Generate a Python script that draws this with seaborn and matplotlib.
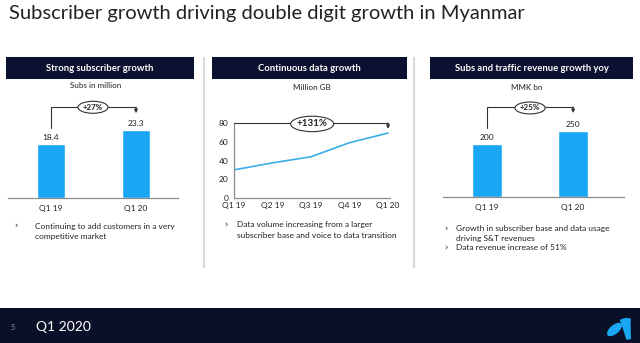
import matplotlib
matplotlib.use("Agg")
import matplotlib.pyplot as plt
from matplotlib.patches import Rectangle, Ellipse, Polygon
import seaborn as sns
import pandas as pd

# ---- data ----
subs_quarters = ["Q1 19", "Q1 20"]
subs_values = [18.4, 23.3]
subs_growth = "+27%"

data_quarters = ["Q1 19", "Q2 19", "Q3 19", "Q4 19", "Q1 20"]
data_values = [30.0, 37.5, 44.0, 59.0, 69.3]
data_growth = "+131%"
data_yticks = [0, 20, 40, 60, 80]

rev_quarters = ["Q1 19", "Q1 20"]
rev_values = [200, 250]
rev_growth = "+25%"

title = "Subscriber growth driving double digit growth in Myanmar"
headers = ["Strong subscriber growth", "Continuous data growth",
           "Subs and traffic revenue growth yoy"]
units = ["Subs in million", "Million GB", "MMK bn"]
bullets = [
    [["Continuing to add customers in a very", "competitive market"]],
    [["Data volume increasing from a larger",
      "subscriber base and voice to data transition"]],
    [["Growth in subscriber base and data usage", "driving S&T revenues"],
     ["Data revenue increase of 51%"]],
]
footer_page = "5"
footer_text = "Q1 2020"

# ---- style ----
NAVY = "#0c1131"
FOOT = "#0b1029"
BLUE = "#19a6f2"
LINE_BLUE = "#3aaee8"
GREY = "#8c8c8c"
TXT = "#222222"

sns.set_style("white")
plt.rcParams["font.family"] = ["Lato", "DejaVu Sans"]

W, H = 640, 343
fig = plt.figure(figsize=(W / 100, H / 100), dpi=100)


def rect(x0, y0, x1, y1):
    """pixel box (top-left origin) -> figure fraction rect"""
    return [x0 / W, 1 - y1 / H, (x1 - x0) / W, (y1 - y0) / H]


# background layer in pixel coordinates
bg = fig.add_axes([0, 0, 1, 1], zorder=0)
bg.set_xlim(0, W)
bg.set_ylim(H, 0)
bg.axis("off")

bg.text(9, 14, title, fontsize=14.5, color=TXT, va="center", ha="left")

header_boxes = [(6, 57, 194, 79), (212, 57, 407, 79), (430, 57, 633, 79)]
for (x0, y0, x1, y1), label in zip(header_boxes, headers):
    bg.add_patch(Rectangle((x0, y0), x1 - x0, y1 - y0, color=NAVY, lw=0))
    bg.text((x0 + x1) / 2, (y0 + y1) / 2 + 0.5, label, color="white",
            fontsize=6.8, fontweight="bold", ha="center", va="center")

for x in (204, 414):
    bg.plot([x, x], [57, 268], color="#d9d9d9", lw=1.5, solid_capstyle="butt")

for (cx, cy), label in zip([(96, 85), (312, 88), (527, 87)], units):
    bg.text(cx, cy, label, fontsize=5.8, color=TXT, ha="center", va="center")

# bullet x, text x, first-line y for every bullet item
bullet_layout = [
    [(16, 35, 226)],
    [(226, 237, 225)],
    [(446, 456, 229), (446, 456, 248)],
]
LINE_STEP = 10
for panel, items in zip(bullet_layout, bullets):
    for (bx, tx, ty), lines in zip(panel, items):
        bg.text(bx, ty, "›", fontsize=6, color=TXT, ha="center", va="center",
                family="DejaVu Sans")
        for k, line in enumerate(lines):
            bg.text(tx, ty + k * LINE_STEP, line, fontsize=6, color=TXT,
                    ha="left", va="center")

# footer band
bg.add_patch(Rectangle((0, 308), W, H - 308, color=FOOT, lw=0))
bg.text(13, 327, footer_page, fontsize=5, color="#9a9aa8", ha="center", va="center")
bg.text(36, 327, footer_text, fontsize=10, color="white", ha="left", va="center")
# logo mark
bg.add_patch(Ellipse((614.5, 329.5), 18, 9, angle=-40, color=BLUE, lw=0))
bg.add_patch(Polygon([(620, 319.5), (630.5, 318.5), (631, 339), (626.5, 340)],
                     closed=True, color=BLUE, lw=0))
bg.add_patch(Ellipse((625.5, 320.5), 11, 5, angle=-8, color=BLUE, lw=0))


def style_bar_axis(ax):
    ax.set_facecolor("none")
    for s in ("top", "right", "left"):
        ax.spines[s].set_visible(False)
    ax.spines["bottom"].set_color(GREY)
    ax.spines["bottom"].set_linewidth(0.9)
    ax.set_yticks([])
    ax.set_xlabel("")
    ax.set_ylabel("")
    ax.tick_params(axis="x", length=0, pad=5, labelsize=6, colors=TXT)


def bracket(ax, x0, x1, y_start, y_level, y_end, ex, ey, ew, eh, label):
    ax.plot([x0, x0, x1], [y_start, y_level, y_level], color="#333333",
            lw=0.8, clip_on=False, zorder=3)
    ax.annotate("", xy=(x1, y_end), xytext=(x1, y_level),
                arrowprops=dict(arrowstyle="-|>", color="#333333", lw=0.8,
                                mutation_scale=5, shrinkA=0, shrinkB=0),
                annotation_clip=False, zorder=3)
    ax.add_patch(Ellipse((ex, ey), ew, eh, facecolor="white",
                         edgecolor="#333333", lw=0.8, clip_on=False, zorder=4))
    ax.text(ex, ey, label, fontsize=5.8, fontweight="bold", ha="center",
            va="center", color=TXT, zorder=5, clip_on=False)


# ---- panel 1: subscribers ----
ax1 = fig.add_axes(rect(8, 95, 178, 198), zorder=1)
sns.barplot(x=subs_quarters, y=subs_values, ax=ax1, color=BLUE,
            saturation=1, width=0.33)
ax1.set_xlim(-0.506, 1.494)
ax1.set_ylim(0, 35.2)
style_bar_axis(ax1)
for i, v in enumerate(subs_values):
    ax1.text(i, v + 1.1, f"{v:.1f}", fontsize=6, ha="center", va="bottom", color=TXT)
bracket(ax1, 0, 1, subs_values[0] + 5.5, 31.0, subs_values[1] + 5.7,
        0.494, 31.0, 0.353, 4.1, subs_growth)

# ---- panel 2: data volume ----
ax2 = fig.add_axes(rect(234, 123, 390, 198), zorder=1)
ax2.set_facecolor("none")
df = pd.DataFrame({"pos": range(len(data_quarters)), "value": data_values})
sns.lineplot(data=df, x="pos", y="value", ax=ax2, color=LINE_BLUE, lw=1.2)
ax2.set_xlim(0, 4.05)
ax2.set_ylim(0, 80)
ax2.set_xticks(range(len(data_quarters)))
ax2.set_xticklabels(data_quarters)
ax2.set_yticks(data_yticks)
ax2.set_xlabel("")
ax2.set_ylabel("")
for s in ("top", "right"):
    ax2.spines[s].set_visible(False)
for s in ("left", "bottom"):
    ax2.spines[s].set_color(GREY)
    ax2.spines[s].set_linewidth(0.9)
ax2.tick_params(length=0, labelsize=6, colors=TXT)
ax2.tick_params(axis="y", pad=4)
ax2.tick_params(axis="x", pad=3)
ax2.plot([0, 4], [80, 80], color="#333333", lw=0.8, clip_on=False, zorder=3)
ax2.annotate("", xy=(4, data_values[-1] + 4.5), xytext=(4, 80),
             arrowprops=dict(arrowstyle="-|>", color="#333333", lw=0.8,
                             mutation_scale=5, shrinkA=0, shrinkB=0),
             annotation_clip=False, zorder=3)
ax2.add_patch(Ellipse((2.03, 79), 1.12, 16.5, facecolor="white",
                      edgecolor="#333333", lw=0.8, clip_on=False, zorder=4))
ax2.text(2.03, 79, data_growth, fontsize=7, fontweight="bold", ha="center",
         va="center", color=TXT, zorder=5)

# ---- panel 3: revenue ----
ax3 = fig.add_axes(rect(443, 95, 624, 197), zorder=1)
sns.barplot(x=rev_quarters, y=rev_values, ax=ax3, color=BLUE,
            saturation=1, width=0.34)
ax3.set_xlim(-0.51, 1.59)
ax3.set_ylim(0, 385)
style_bar_axis(ax3)
for i, v in enumerate(rev_values):
    ax3.text(i, v + 12, f"{v}", fontsize=6, ha="center", va="bottom", color=TXT)
bracket(ax3, 0, 1, rev_values[0] + 60, 340, rev_values[1] + 67,
        0.5, 336, 0.35, 45, rev_growth)

fig.savefig("out.png", dpi=100)
